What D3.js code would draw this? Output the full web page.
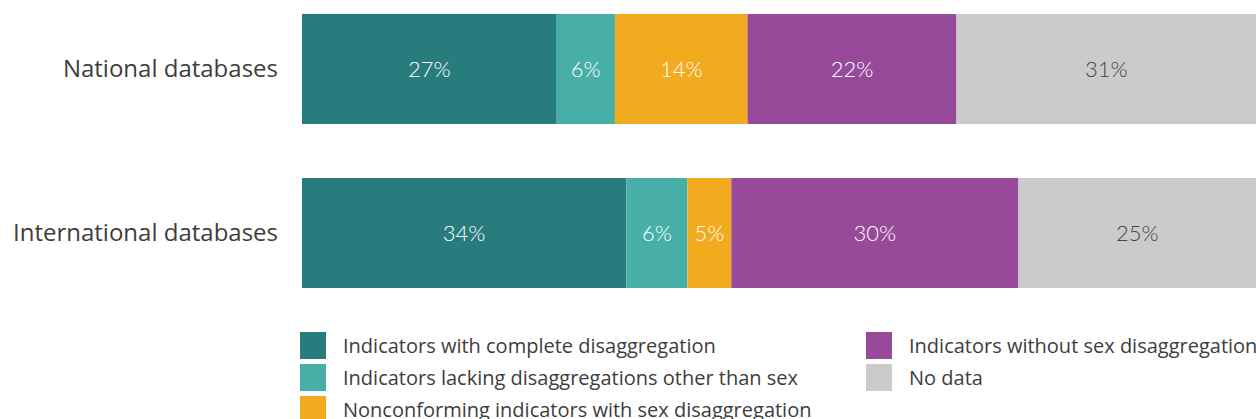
<!DOCTYPE html>
<html>
<head>
<meta charset="utf-8">
<script src="https://cdn.jsdelivr.net/npm/d3@7"></script>
<style>
  html, body { margin: 0; padding: 0; background: #fff; }
  svg { display: block; font-family: Lato, "Open Sans", sans-serif; }
  .txt { font-family: "Open Sans", Lato, sans-serif; }
</style>
</head>
<body>
<div id="chart"></div>
<script>
// Categories (rows) and segment keys
var rows = ['National databases', 'International databases'];
var keys = ['complete', 'lacking', 'nonconforming', 'without', 'nodata'];
var legendLabels = [
  'Indicators with complete disaggregation',
  'Indicators lacking disaggregations other than sex',
  'Nonconforming indicators with sex disaggregation',
  'Indicators without sex disaggregation',
  'No data'
];
var colors = ['#287c7d', '#47afa7', '#f2aa1f', '#974a99', '#cbcbcb'];

// Shares in percent (as drawn), labels are the rounded values
var national = [26.7, 6.1, 13.9, 21.9, 31.4];
var international = [34.0, 6.4, 4.6, 30.1, 24.9];
var series = [national, international];

var width = 1256, height = 419;
var svg = d3.select('#chart').append('svg')
  .attr('width', width)
  .attr('height', height);

var x = d3.scaleLinear().domain([0, 100]).range([302, 1256]);
var y = d3.scaleBand().domain(rows).range([14, 288]).paddingInner(54 / 164).paddingOuter(0);

var data = rows.map(function(r, i) {
  var acc = 0;
  return {
    row: r,
    segs: series[i].map(function(v, k) {
      var s = { key: keys[k], x0: acc, x1: acc + v, v: v, k: k };
      acc += v;
      return s;
    })
  };
});

var row = svg.selectAll('.row')
  .data(data)
  .join('g')
  .attr('class', 'row')
  .attr('transform', function(d) { return 'translate(0,' + y(d.row) + ')'; });

row.selectAll('rect')
  .data(function(d) { return d.segs; })
  .join('rect')
  .attr('x', function(d) { return x(d.x0); })
  .attr('width', function(d) { return x(d.x1) - x(d.x0); })
  .attr('y', 0)
  .attr('height', y.bandwidth())
  .attr('fill', function(d) { return colors[d.k]; });

row.selectAll('text.val')
  .data(function(d) { return d.segs; })
  .join('text')
  .attr('class', 'val')
  .attr('x', function(d) { return (x(d.x0) + x(d.x1)) / 2; })
  .attr('y', y.bandwidth() / 2)
  .attr('dy', '0.35em')
  .attr('text-anchor', 'middle')
  .attr('font-size', 22)
  .attr('font-weight', 300)
  .attr('fill', function(d) { return d.k === 4 ? '#444' : '#fff'; })
  .text(function(d) { return Math.round(d.v) + '%'; });

row.append('text')
  .attr('class', 'txt')
  .attr('x', 278)
  .attr('y', y.bandwidth() / 2)
  .attr('dy', '0.35em')
  .attr('text-anchor', 'end')
  .attr('font-size', 24)
  .attr('fill', '#3d3d3d')
  .text(function(d) { return d.row; });

// Legend
var legendPos = [[300, 332], [300, 364], [300, 396], [866, 332], [866, 364]];
var legend = svg.selectAll('.legend-item')
  .data(legendLabels)
  .join('g')
  .attr('class', 'legend-item')
  .attr('transform', function(d, i) { return 'translate(' + legendPos[i][0] + ',' + legendPos[i][1] + ')'; });

legend.append('rect')
  .attr('width', 26)
  .attr('height', 27)
  .attr('fill', function(d, i) { return colors[i]; });

legend.append('text')
  .attr('class', 'txt')
  .attr('x', 43)
  .attr('y', 13.5)
  .attr('dy', '0.35em')
  .attr('font-size', 20)
  .attr('fill', '#3d3d3d')
  .text(function(d) { return d; });
</script>
</body>
</html>
